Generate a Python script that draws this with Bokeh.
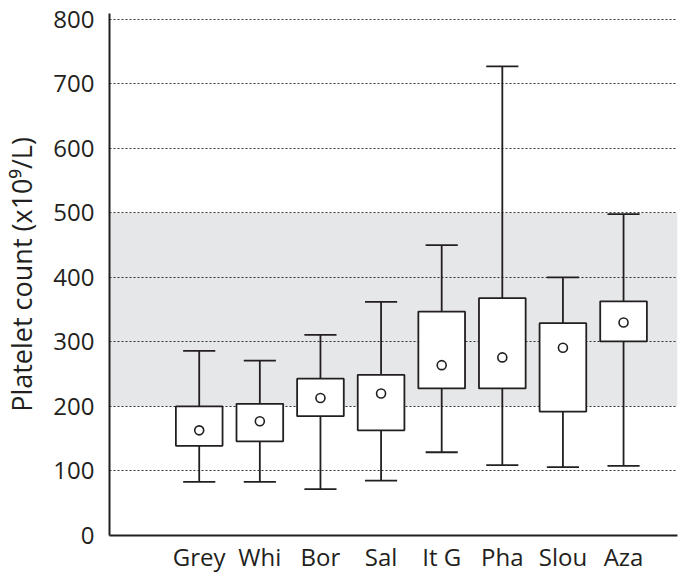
from bokeh.plotting import figure
from bokeh.models import BoxAnnotation, FixedTicker, Range1d, ColumnDataSource
from bokeh.embed import file_html
from bokeh.resources import INLINE

# ---- data ----
categories = ["Grey", "Whi", "Bor", "Sal", "It G", "Pha", "Slou", "Aza"]
whisker_low = [83, 83, 72, 85, 129, 109, 106, 108]
quartile_1 = [139, 146, 185, 163, 228, 228, 192, 301]
quartile_3 = [200, 204, 243, 249, 347, 368, 329, 363]
whisker_high = [286, 271, 311, 362, 450, 727, 400, 498]
means = [163, 177, 213, 220, 264, 276, 291, 330]
y_ticks = [0, 100, 200, 300, 400, 500, 600, 700, 800]
normal_low, normal_high = 200, 500

INK = "#231f20"
FONT = "Open Sans"

xs = list(range(len(categories)))
src = ColumnDataSource(dict(
    x=xs, low=whisker_low, q1=quartile_1, q3=quartile_3, high=whisker_high,
    mean=means,
    xl=[x - 0.265 for x in xs], xr=[x + 0.265 for x in xs],
))

p = figure(width=685, height=575, output_backend="svg", toolbar_location=None,
           x_range=Range1d(-1.48, 7.89), y_range=Range1d(0, 809),
           min_border_left=107, min_border_right=8, min_border_top=13,
           min_border_bottom=40)
p.outline_line_color = None
p.background_fill_color = "white"
p.border_fill_color = "white"

band = BoxAnnotation(bottom=normal_low, top=normal_high, fill_color="#e6e7e9",
                     fill_alpha=1.0, line_alpha=0, level="image")
p.add_layout(band)

# whiskers (single vertical line behind box) and caps
p.segment(x0="x", y0="low", x1="x", y1="high", source=src, line_color=INK, line_width=1.8)
p.segment(x0="xl", y0="low", x1="xr", y1="low", source=src, line_color=INK, line_width=1.8)
p.segment(x0="xl", y0="high", x1="xr", y1="high", source=src, line_color=INK, line_width=1.8)
# boxes
p.vbar(x="x", bottom="q1", top="q3", width=0.77, source=src, fill_color="white",
       line_color=INK, line_width=1.8)
# means
p.scatter(x="x", y="mean", source=src, size=9, marker="circle", fill_color="white",
          line_color=INK, line_width=1.6)

# grid
p.xgrid.visible = False
p.ygrid.ticker = FixedTicker(ticks=y_ticks[1:])
p.ygrid.grid_line_color = "#333333"
p.ygrid.grid_line_dash = "2 2"
p.ygrid.grid_line_width = 1

# axes
p.xaxis.ticker = FixedTicker(ticks=xs)
p.xaxis.major_label_overrides = {i: c for i, c in zip(xs, categories)}
p.yaxis.ticker = FixedTicker(ticks=y_ticks)
for ax in (p.xaxis[0], p.yaxis[0]):
    ax.axis_line_color = INK
    ax.axis_line_width = 2
    ax.major_tick_line_color = None
    ax.minor_tick_line_color = None
    ax.major_tick_out = 0
    ax.major_tick_in = 0
    ax.major_label_text_font = FONT
    ax.major_label_text_font_size = "24px"
    ax.major_label_text_color = INK
p.xaxis.major_label_standoff = 4
p.yaxis.major_label_standoff = 15

p.yaxis.axis_label = "Platelet count (x10\u2079/L)"
p.yaxis.axis_label_text_font = FONT
p.yaxis.axis_label_text_font_size = "27px"
p.yaxis.axis_label_text_font_style = "normal"
p.yaxis.axis_label_text_color = INK
p.yaxis.axis_label_standoff = 10

open("out.html", "w").write(file_html(p, INLINE))
